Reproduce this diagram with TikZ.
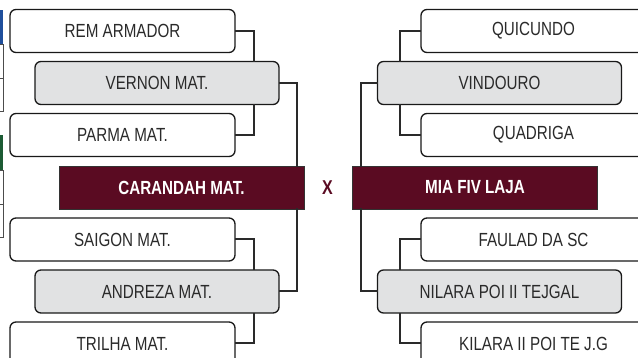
\documentclass[tikz,border=0pt]{standalone}
\usepackage{fontspec}
\setmainfont[FakeStretch=0.8]{Liberation Sans}
\usetikzlibrary{calc}
\definecolor{wine}{HTML}{5A0B22}
\definecolor{boxgray}{HTML}{E1E2E3}
\definecolor{inkgray}{HTML}{2A2A2A}
\definecolor{edgeblue}{HTML}{1F4F9C}
\definecolor{edgegreen}{HTML}{1C5B34}
\tikzset{
  team/.style={draw=black!90,line width=1.3pt,rounded corners=6pt,fill=white,
    minimum width=225pt,minimum height=43pt,inner sep=0pt,
    text=inkgray,font=\fontsize{19}{19}\selectfont},
  semi/.style={team,fill=boxgray,minimum width=244pt},
  final/.style={draw=black!80,line width=0.8pt,fill=wine,minimum width=245pt,
    minimum height=43pt,inner sep=0pt,text=white,font=\fontsize{19}{19}\selectfont\bfseries},
  link/.style={draw=inkgray,line width=2pt,line cap=rect}
}
\begin{document}
\begin{tikzpicture}[x=1pt,y=-1pt]
\useasboundingbox (0,0) rectangle (638,358);
% cut-off pieces at the left edge
\fill[edgeblue] (-4,10) rectangle (3,44);
\draw[line width=0.6pt,black!70] (-4,44) rectangle (3,78) (-4,78) rectangle (3,111);
\fill[edgegreen] (-4,135) rectangle (3,170);
\draw[line width=0.6pt,black!70] (-4,170) rectangle (3,204) (-4,204) rectangle (3,237);
% left half
\node[team] (rem) at (122.5,31) {REM ARMADOR};
\node[semi] (vernon) at (157,83) {VERNON MAT.};
\node[team] (parma) at (122.5,135) {PARMA MAT.};
\node[final] (carandah) at (181.5,187.5) {CARANDAH MAT.};
\node[team] (saigon) at (122.5,239.5) {SAIGON MAT.};
\node[semi] (andreza) at (157,291.5) {ANDREZA MAT.};
\node[team] (trilha) at (122.5,343.5) {TRILHA MAT.};
% right half
\node[team] (quicundo) at (533.5,31) {QUICUNDO};
\node[semi] (vindouro) at (499.5,83) {VINDOURO};
\node[team] (quadriga) at (533.5,135) {QUADRIGA};
\node[final] (mia) at (475,187.5) {MIA FIV LAJA};
\node[team] (faulad) at (533.5,239.5) {FAULAD DA SC};
\node[semi] (nilara) at (499.5,291.5) {NILARA POI II TEJGAL};
\node[team] (kilara) at (533.5,343.5) {KILARA II POI TE J.G};
% versus
\node[text=wine,font=\fontsize{20}{20}\selectfont\bfseries] (versus) at (327.5,188) {X};
% connectors left
\draw[link] (rem.east) -- ++(18,0) coordinate (c1) -- (c1 |- vernon.north);
\draw[link] (parma.east) -- ++(18,0) coordinate (c2) -- (c2 |- vernon.south);
\draw[link] (vernon.east) -- ++(17,0) coordinate (c3) -- (c3 |- carandah.north);
\draw[link] (saigon.east) -- ++(18,0) coordinate (c4) -- (c4 |- andreza.north);
\draw[link] (trilha.east) -- ++(18,0) coordinate (c5) -- (c5 |- andreza.south);
\draw[link] (andreza.east) -- ++(17,0) coordinate (c6) -- (c6 |- carandah.south);
% connectors right
\draw[link] (quicundo.west) -- ++(-20,0) coordinate (d1) -- (d1 |- vindouro.north);
\draw[link] (quadriga.west) -- ++(-20,0) coordinate (d2) -- (d2 |- vindouro.south);
\draw[link] (vindouro.west) -- ++(-16,0) coordinate (d3) -- (d3 |- mia.north);
\draw[link] (faulad.west) -- ++(-20,0) coordinate (d4) -- (d4 |- nilara.north);
\draw[link] (kilara.west) -- ++(-20,0) coordinate (d5) -- (d5 |- nilara.south);
\draw[link] (nilara.west) -- ++(-16,0) coordinate (d6) -- (d6 |- mia.south);
\end{tikzpicture}
\end{document}
